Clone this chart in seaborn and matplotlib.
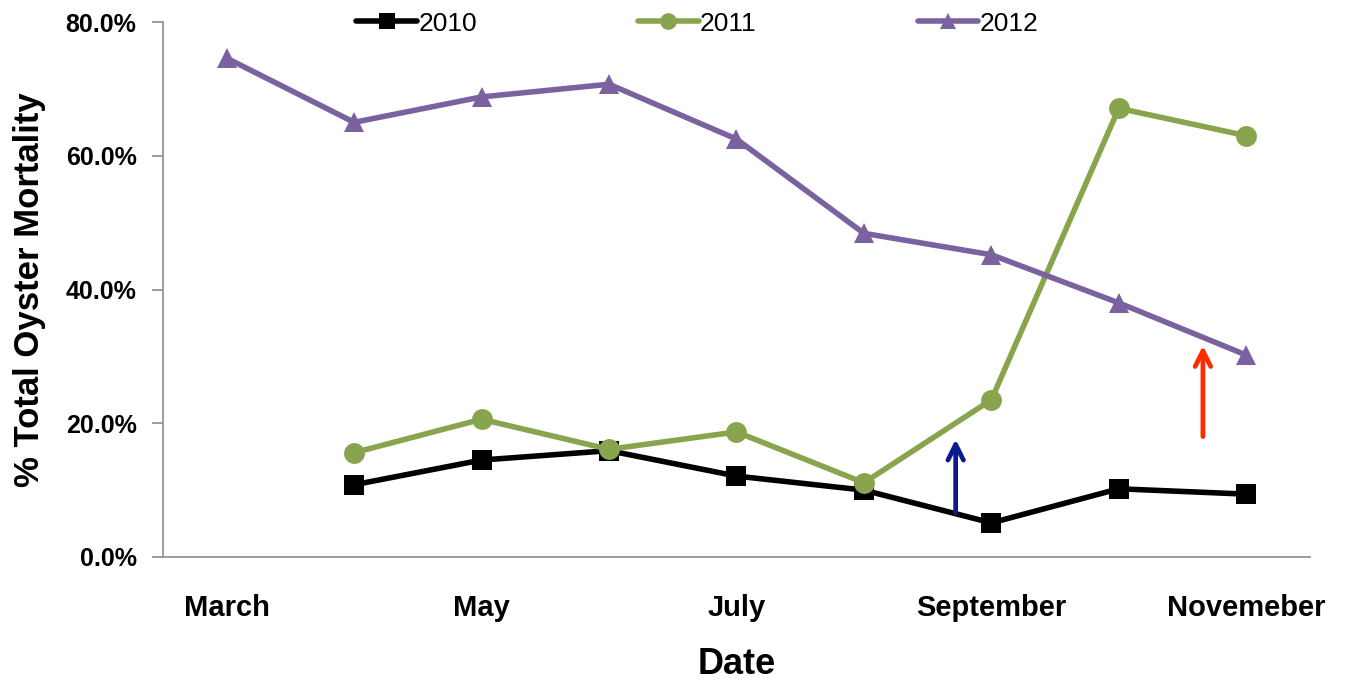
import numpy as np
import pandas as pd
import matplotlib
matplotlib.use("Agg")
import matplotlib.pyplot as plt
import seaborn as sns

months = ["March", "April", "May", "June", "July", "August", "September", "October", "Novemeber"]
shown_labels = ["March", "May", "July", "September", "Novemeber"]

mort_2010 = [np.nan, 10.8, 14.5, 15.9, 12.1, 10.0, 5.1, 10.2, 9.4]
mort_2011 = [np.nan, 15.6, 20.6, 16.1, 18.7, 11.1, 23.5, 67.1, 63.0]
mort_2012 = [74.6, 65.0, 68.8, 70.7, 62.5, 48.4, 45.2, 38.0, 30.2]

years = ["2010", "2011", "2012"]
colors = {"2010": "#000000", "2011": "#88A44C", "2012": "#7A62A0"}
markers = {"2010": "s", "2011": "o", "2012": "^"}

rows = []
for yr, vals in zip(years, [mort_2010, mort_2011, mort_2012]):
    for i, v in enumerate(vals):
        if not np.isnan(v):
            rows.append({"pos": i, "Month": months[i], "Year": yr, "Mortality": v})
df = pd.DataFrame(rows)

sns.set_style("white")
plt.rcParams["font.family"] = ["Liberation Sans", "DejaVu Sans"]
plt.rcParams["text.color"] = "black"
plt.rcParams["axes.labelcolor"] = "black"
plt.rcParams["xtick.labelcolor"] = "black"
plt.rcParams["ytick.labelcolor"] = "black"

fig = plt.figure(figsize=(13.47, 6.82), dpi=100)
ax = fig.add_axes([0.121, 0.1833, 0.8515, 0.7844])

sns.lineplot(data=df, x="pos", y="Mortality", hue="Year", style="Year",
             palette=colors, markers=markers, dashes=False, linewidth=4,
             markersize=15, markeredgewidth=0, ax=ax)

# arrows marking events
ax.annotate("", xy=(5.72, 17.6), xytext=(5.72, 6.6),
            arrowprops=dict(arrowstyle="->", color="#0A1A8C", lw=3.4,
                            mutation_scale=28, shrinkA=0, shrinkB=0))
ax.annotate("", xy=(7.66, 31.6), xytext=(7.66, 18.0),
            arrowprops=dict(arrowstyle="->", color="#FF2A00", lw=3.4,
                            mutation_scale=28, shrinkA=0, shrinkB=0))

ax.set_xlim(-0.5, 8.5)
ax.set_ylim(0, 80)

# tick marks between categories, labels on every other month
ax.set_xticks(np.arange(-0.5, 9.0, 1.0))
ax.set_xticklabels([])
label_pos = [months.index(m) for m in shown_labels]
ax.set_xticks(label_pos, minor=True)
ax.set_xticklabels(shown_labels, minor=True, fontsize=21, fontweight="bold")
ax.tick_params(axis="x", which="major", length=9, width=1.2, color="#8C8C8C", direction="out")
ax.tick_params(axis="x", which="minor", length=0, pad=27)

ax.set_yticks(np.arange(0, 81, 20))
ax.set_yticklabels([f"{v:.1f}%" for v in np.arange(0, 81, 20)], fontsize=18, fontweight="bold")
ax.tick_params(axis="y", which="major", length=8, width=1.2, color="#8C8C8C",
               direction="out", pad=11, left=True)

for s in ["top", "right"]:
    ax.spines[s].set_visible(False)
for s in ["left", "bottom"]:
    ax.spines[s].set_color("#8C8C8C")
    ax.spines[s].set_linewidth(1.2)

ax.set_xlabel("Date", fontsize=26, fontweight="bold", labelpad=18)
ax.set_ylabel("% Total Oyster Mortality", fontsize=25, fontweight="bold", labelpad=14)

handles, labels = ax.get_legend_handles_labels()
for h in handles:
    h.set_markersize(12)
ax.legend(handles, labels, loc="center", bbox_to_anchor=(0.466, 0.997), ncol=3,
          frameon=False, fontsize=19, handlelength=2.3, columnspacing=6.1,
          handletextpad=0.05, borderaxespad=0)

fig.savefig("out.png", dpi=100, facecolor="white")
